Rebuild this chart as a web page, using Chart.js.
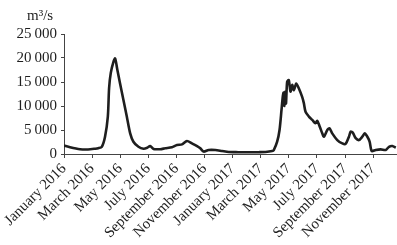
<!DOCTYPE html>
<html>
<head>
<meta charset="utf-8">
<script src="https://cdn.jsdelivr.net/npm/chart.js@4.4.0/dist/chart.umd.min.js"></script>
<style>
	html, body { margin: 0; padding: 0; background: #fff; }
	#wrap { width: 397px; height: 245px; }
</style>
</head>
<body>
<div id="wrap"><canvas id="chartFlow"></canvas></div>
<script>
// months since January 2016
const months = [0, 0.43, 1.14, 1.71, 2.21, 2.43, 2.69, 2.92, 3.12, 3.21, 3.33, 3.52, 3.64, 3.8, 3.99,
	4.23, 4.47, 4.71, 4.94, 5.3, 5.66, 5.92, 6.13, 6.37, 6.85, 7.2, 7.68, 8.04, 8.4, 8.75, 9.11,
	9.47, 9.7, 9.94, 10.29, 10.77, 11.25, 11.72, 12.41, 13.15, 13.84, 14.34, 14.81, 14.93, 15.17,
	15.34, 15.48, 15.57, 15.63, 15.69, 15.75, 15.8, 15.88, 16.0, 16.12, 16.24, 16.36, 16.53, 16.71,
	16.95, 17.07, 17.19, 17.43, 17.67, 17.9, 18.02, 18.19, 18.38, 18.5, 18.74, 18.9, 19.09, 19.45,
	19.81, 20.04, 20.28, 20.4, 20.56, 20.76, 20.99, 21.23, 21.4, 21.59, 21.75, 21.9, 22.18, 22.54,
	22.9, 23.13, 23.37, 23.61];
// discharge, m3/s
const flow = [1750, 1400, 1000, 950, 1100, 1200, 1500, 3600, 7800, 13750, 16900, 19200, 19900, 17500, 14700,
	11250, 7800, 4300, 2560, 1500, 1100, 1300, 1660, 1040, 1000, 1190, 1400, 1875, 2000, 2700, 2200,
	1660, 1200, 500, 830, 830, 620, 420, 380, 350, 380, 420, 620, 830, 2560,
	5000, 9170, 11940, 12800, 10000, 13000, 10500, 15000, 15400, 13000, 14400, 13300, 14700, 13700,
	11900, 10600, 8800, 7800, 7100, 6400, 6900, 5800, 4300, 3600, 5000, 5350, 4300, 2900,
	2200, 2100, 3600, 4650, 4400, 3300, 2900, 3600, 4300, 3600, 2600, 600, 830, 970,
	830, 1500, 1660, 1300];
const tickMonths = [0, 2, 4, 6, 8, 10, 12, 14, 16, 18, 20, 22];
const tickLabels = ["January 2016", "March 2016", "May 2016", "July 2016", "September 2016", "November 2016",
	"January 2017", "March 2017", "May 2017", "July 2017", "September 2017", "November 2017"];
const yTicks = [0, 5000, 10000, 15000, 20000, 25000];

const fontFamily = "'Liberation Serif', 'DejaVu Serif', serif";
const inkColor = "#1e1e1e";

function fmt(v) {
	const s = String(v);
	if (s.length < 4) return s;
	return s.slice(0, s.length - 3) + "\u2009" + s.slice(s.length - 3);
}

const unitLabel = {
	id: 'unitLabel',
	afterDraw(chart) {
		const ctx = chart.ctx;
		ctx.save();
		ctx.fillStyle = inkColor;
		ctx.font = "15px " + fontFamily;
		ctx.textBaseline = 'alphabetic';
		ctx.fillText("m\u00b3/s", 27, 20);
		ctx.restore();
	}
};

new Chart(document.getElementById("chartFlow"), {
	type: 'line',
	data: {
		datasets: [{
			data: months.map((m, i) => ({ x: m, y: flow[i] })),
			borderColor: inkColor,
			borderWidth: 2.6,
			pointRadius: 0,
			tension: 0.25,
			fill: false
		}]
	},
	options: {
		responsive: true,
		maintainAspectRatio: false,
		animation: false,
		layout: { padding: { top: 34, right: 0, left: 0, bottom: 0 } },
		plugins: { legend: { display: false }, tooltip: { enabled: false } },
		scales: {
			x: {
				type: 'linear',
				min: 0,
				max: 23.7,
				afterBuildTicks: (scale) => { scale.ticks = tickMonths.map(v => ({ value: v })); },
				afterFit: (scale) => { scale.height = 91; },
				grid: { drawOnChartArea: false, tickLength: 4, color: "#444" },
				border: { color: "#444", width: 1 },
				ticks: {
					autoSkip: false,
					minRotation: 45,
					maxRotation: 45,
					padding: 2,
					color: inkColor,
					font: { family: fontFamily, size: 15 },
					callback: (v) => tickLabels[tickMonths.indexOf(v)]
				}
			},
			y: {
				min: 0,
				max: 25000,
				afterBuildTicks: (scale) => { scale.ticks = yTicks.map(v => ({ value: v })); },
				afterFit: (scale) => { scale.width = 64; },
				grid: { drawOnChartArea: false, tickLength: 3, color: "#444" },
				border: { color: "#444", width: 1 },
				ticks: {
					padding: 4,
					color: inkColor,
					font: { family: fontFamily, size: 15 },
					callback: (v) => fmt(v)
				}
			}
		}
	},
	plugins: [unitLabel]
});
</script>
</body>
</html>
